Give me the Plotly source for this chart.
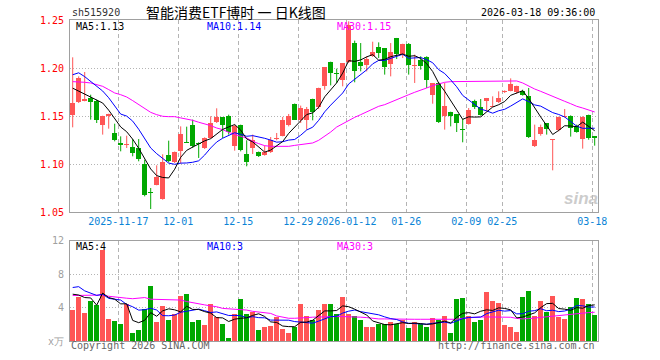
import numpy as np
import pandas as pd
import plotly.graph_objects as go

# ---------------- data ----------------
holidays = ["2026-01-01", "2026-01-02", "2026-02-16", "2026-02-17", "2026-02-18",
            "2026-02-19", "2026-02-20", "2026-02-23"]
dates = [d.strftime("%Y-%m-%d") for d in pd.bdate_range("2025-11-05", "2026-03-18")
         if d.strftime("%Y-%m-%d") not in holidays]

opens = [1.1507, 1.1642, 1.1660, 1.1691, 1.1653, 1.1410, 1.1497, 1.1323, 1.1222, 1.1198,
         1.1174, 1.1167, 1.1000, 1.0701, 1.0785, 1.0639, 1.1097, 1.1017, 1.1132, 1.1229,
         1.1406, 1.1219, 1.1167, 1.1274, 1.1438, 1.1486, 1.1497, 1.1184, 1.1410, 1.1104,
         1.1167, 1.1128, 1.1097, 1.1122, 1.1260, 1.1295, 1.1403, 1.1628, 1.1455, 1.1455,
         1.1680, 1.1594, 1.1809, 1.2066, 1.1944, 1.1878, 1.2059, 1.2260, 1.2059, 1.2028,
         1.2122, 1.2219, 1.2208, 1.2042, 1.2313, 1.2149, 1.2253, 1.2017, 1.2087, 1.2115,
         1.1722, 1.1844, 1.1497, 1.1545, 1.1521, 1.1361, 1.1420, 1.1653, 1.1590, 1.1653,
         1.1597, 1.1642, 1.1753, 1.1757, 1.1747, 1.1764, 1.1712, 1.1184, 1.1316, 1.1427,
         1.1247, 1.1351, 1.1490, 1.1503, 1.1400, 1.1260, 1.1507, 1.1292]
highs = [1.2111, 1.1913, 1.1958, 1.1722, 1.1670, 1.1503, 1.1524, 1.1420, 1.1288, 1.1295,
         1.1260, 1.1260, 1.1045, 1.0750, 1.0986, 1.1101, 1.1243, 1.1130, 1.1392, 1.1389,
         1.1462, 1.1226, 1.1278, 1.1497, 1.1580, 1.1486, 1.1514, 1.1410, 1.1410, 1.1247,
         1.1306, 1.1130, 1.1191, 1.1281, 1.1323, 1.1490, 1.1521, 1.1630, 1.1608, 1.1594,
         1.1680, 1.1795, 1.2007, 1.2066, 1.1993, 1.2052, 1.2486, 1.2285, 1.2260, 1.2122,
         1.2274, 1.2267, 1.2208, 1.2260, 1.2313, 1.2253, 1.2260, 1.2139, 1.2122, 1.2122,
         1.1844, 1.1854, 1.1844, 1.1545, 1.1521, 1.1469, 1.1583, 1.1670, 1.1677, 1.1688,
         1.1705, 1.1757, 1.1767, 1.1892, 1.1816, 1.1774, 1.1792, 1.1410, 1.1410, 1.1427,
         1.1253, 1.1493, 1.1573, 1.1507, 1.1410, 1.1497, 1.1514, 1.1292]
lows = [1.1382, 1.1635, 1.1653, 1.1462, 1.1427, 1.1306, 1.1368, 1.1236, 1.1132, 1.1167,
        1.1080, 1.1028, 1.0663, 1.0531, 1.0778, 1.0628, 1.1017, 1.1010, 1.1003, 1.1219,
        1.1167, 1.1063, 1.1156, 1.1267, 1.1427, 1.1271, 1.1306, 1.1139, 1.1132, 1.0976,
        1.1104, 1.1073, 1.1087, 1.1115, 1.1247, 1.1288, 1.1392, 1.1462, 1.1427, 1.1358,
        1.1455, 1.1573, 1.1774, 1.1819, 1.1844, 1.1809, 1.2052, 1.1851, 1.1965, 1.1965,
        1.2115, 1.2104, 1.1931, 1.1913, 1.2094, 1.2104, 1.1931, 1.1844, 1.1983, 1.1792,
        1.1628, 1.1427, 1.1358, 1.1392, 1.1333, 1.1226, 1.1410, 1.1573, 1.1503, 1.1549,
        1.1594, 1.1635, 1.1740, 1.1757, 1.1733, 1.1712, 1.1271, 1.1177, 1.1295, 1.1306,
        1.0934, 1.1340, 1.1485, 1.1285, 1.1326, 1.1160, 1.1253, 1.1191]
closes = [1.1639, 1.1896, 1.1680, 1.1642, 1.1455, 1.1503, 1.1524, 1.1253, 1.1194, 1.1205,
          1.1115, 1.1052, 1.0674, 1.0694, 1.0861, 1.1017, 1.1028, 1.1128, 1.1316, 1.1222,
          1.1188, 1.1205, 1.1274, 1.1431, 1.1486, 1.1406, 1.1333, 1.1399, 1.1142, 1.1024,
          1.1253, 1.1080, 1.1122, 1.1247, 1.1267, 1.1455, 1.1503, 1.1462, 1.1583, 1.1573,
          1.1542, 1.1795, 1.2007, 1.1944, 1.1938, 1.2052, 1.2444, 1.1965, 1.2024, 1.2094,
          1.2170, 1.2153, 1.2007, 1.2167, 1.2149, 1.2253, 1.2035, 1.2035, 1.2024, 1.1878,
          1.1844, 1.1434, 1.1608, 1.1503, 1.1427, 1.1354, 1.1566, 1.1594, 1.1514, 1.1688,
          1.1604, 1.1688, 1.1760, 1.1837, 1.1816, 1.1715, 1.1281, 1.1253, 1.1385, 1.1365,
          1.1253, 1.1493, 1.1497, 1.1370, 1.1330, 1.1490, 1.1271, 1.1271]

# moving-average values visible before a full window is available
ma5_head = [1.179, 1.176, 1.173, 1.170]
ma10_head = [1.193, 1.195, 1.191, 1.186, 1.181, 1.176, 1.169, 1.160, 1.152]
ma30 = [1.1858, 1.1858, 1.1851, 1.1844, 1.1826, 1.1809, 1.1775, 1.1740, 1.1722, 1.1698,
        1.1660, 1.1618, 1.1580, 1.1538, 1.1514, 1.1497, 1.1493, 1.1493, 1.1480, 1.1469,
        1.1455, 1.1435, 1.1420, 1.1400, 1.1375, 1.1358, 1.1330, 1.1306, 1.1288, 1.1271,
        1.1236, 1.1212, 1.1191, 1.1184, 1.1184, 1.1184, 1.1184, 1.1194, 1.1201, 1.1212,
        1.1219, 1.1247, 1.1288, 1.1333, 1.1385, 1.1420, 1.1455, 1.1486, 1.1514, 1.1542,
        1.1573, 1.1601, 1.1618, 1.1642, 1.1670, 1.1698, 1.1722, 1.1747, 1.1767, 1.1792,
        1.1816, 1.1837, 1.1851, 1.1858, 1.1858, 1.1858, 1.1858, 1.1865, 1.1865, 1.1865,
        1.1865, 1.1865, 1.1865, 1.1865, 1.1865, 1.1844, 1.1809, 1.1781, 1.1757, 1.1733,
        1.1705, 1.1677, 1.1653, 1.1628, 1.1601, 1.1583, 1.1566, 1.1542]

volume = [3.68, 5.28, 3.36, 4.80, 4.32, 10.88, 2.64, 2.36, 2.00, 4.40,
          0.92, 1.28, 3.80, 6.56, 2.24, 4.16, 2.48, 3.20, 5.36, 5.60,
          2.24, 2.48, 1.88, 4.48, 2.90, 2.08, 0.32, 3.28, 5.00, 3.20,
          3.52, 1.28, 1.68, 1.76, 2.84, 1.40, 0.92, 1.64, 4.40, 2.96,
          2.48, 3.68, 4.48, 4.40, 3.20, 5.24, 3.20, 3.00, 2.48, 1.64,
          1.64, 2.04, 2.04, 2.32, 2.08, 2.48, 1.52, 2.32, 2.00, 1.64,
          2.72, 2.56, 2.96, 0.92, 5.00, 5.12, 2.96, 2.24, 2.48, 5.84,
          4.76, 4.52, 1.88, 1.64, 1.04, 5.24, 5.96, 2.96, 4.76, 3.44,
          5.40, 2.84, 2.60, 4.04, 5.12, 5.00, 4.40, 3.08]
vma5_head = [5.60, 5.50, 5.20, 5.15]
vma10_head = [6.40, 6.50, 6.00, 5.70, 5.45, 5.60, 5.10, 5.00, 4.90]
vma30 = [5.44, 5.44, 5.44, 5.44, 5.44, 5.50, 5.35, 5.25, 5.20, 5.12,
         5.06, 5.10, 5.20, 5.00, 4.98, 4.96, 5.00, 4.96, 4.90, 4.72,
         4.56, 4.40, 4.32, 4.20, 4.10, 3.90, 3.84, 3.80, 3.75, 3.70,
         3.55, 3.45, 3.35, 3.30, 3.00, 2.90, 2.72, 2.72, 2.72, 2.80,
         2.85, 2.88, 2.92, 2.96, 2.92, 2.92, 2.92, 2.90, 2.85, 2.80,
         2.70, 2.64, 2.64, 2.65, 2.65, 2.64, 2.62, 2.60, 2.60, 2.60,
         2.60, 2.58, 2.56, 2.58, 2.60, 2.72, 2.80, 2.84, 2.88, 2.88,
         2.88, 2.88, 2.86, 2.84, 2.70, 2.64, 2.68, 2.76, 2.84, 2.88,
         2.96, 3.04, 3.15, 3.24, 3.30, 3.36, 3.40, 3.44]

tick_dates = ["2025-11-17", "2025-12-01", "2025-12-15", "2025-12-29", "2026-01-12",
              "2026-01-26", "2026-02-09", "2026-02-25", "2026-03-18"]
tick_labels = ["2025-11-17", "12-01", "12-15", "12-29", "2026-01-12",
               "01-26", "02-09", "02-25", "03-18"]
price_ticks = [1.05, 1.10, 1.15, 1.20, 1.25]
price_tick_text = ["1.05", "1.10", "1.15", "1.20", "1.25"]
vol_ticks = [0, 4, 8, 12]
vol_tick_text = ["x万", "4", "8", "12"]

price_legend = ["MA5:1.13", "MA10:1.14", "MA30:1.15"]
volume_legend = ["MA5:4", "MA10:3", "MA30:3"]
title_code = "sh515920"
title_name = "智能消费ETF博时 一 日K线图"
timestamp = "2026-03-18 09:36:00"

# ---------------- derived ----------------
n = len(closes)
xi = np.arange(n)
o = np.array(opens); h = np.array(highs); l = np.array(lows); c = np.array(closes)
v = np.array(volume)

ma5 = pd.Series(c).rolling(5).mean().to_numpy()
ma5[:len(ma5_head)] = ma5_head
ma10 = pd.Series(c).rolling(10).mean().to_numpy()
ma10[:len(ma10_head)] = ma10_head
vma5 = pd.Series(v).rolling(5).mean().to_numpy()
vma5[:len(vma5_head)] = vma5_head
vma10 = pd.Series(v).rolling(10).mean().to_numpy()
vma10[:len(vma10_head)] = vma10_head

up = c >= o
RED = "#ff5555"
GREEN = "#00a800"
MONO = "DejaVu Sans Mono"

W, H = 660, 360
ML, MR, MT, MB = 70, 62, 20, 19
PW, PH = W - ML - MR, H - MT - MB


def px(xp):
    return (xp - ML) / PW


def py(yp):
    return (H - MB - yp) / PH


price_dom = [py(212), 1]
vol_dom = [0, py(240.7)]

fig = go.Figure()


def add_candles(mask, color):
    idx = xi[mask]
    wx, wy = [], []
    for i in idx:
        wx += [i, i, None]
        wy += [l[i], h[i], None]
    fig.add_trace(go.Scatter(x=wx, y=wy, mode="lines", line=dict(color=color, width=1),
                             xaxis="x", yaxis="y", hoverinfo="skip"))
    body = np.maximum(np.abs(c[idx] - o[idx]), 0.0011)
    fig.add_trace(go.Bar(x=idx, y=body, base=np.minimum(o[idx], c[idx]), width=0.8,
                         marker=dict(color=color, line=dict(width=0)),
                         xaxis="x", yaxis="y", hoverinfo="skip"))


add_candles(up, RED)
add_candles(~up, GREEN)

for series, color in [(ma30, "#ff00ff"), (ma10, "#0000ff"), (ma5, "#000000")]:
    fig.add_trace(go.Scatter(x=xi, y=series, mode="lines", line=dict(color=color, width=1),
                             xaxis="x", yaxis="y", hoverinfo="skip"))

fig.add_trace(go.Bar(x=xi[up], y=v[up], width=0.8, marker=dict(color=RED, line=dict(width=0)),
                     xaxis="x2", yaxis="y2", hoverinfo="skip"))
fig.add_trace(go.Bar(x=xi[~up], y=v[~up], width=0.8, marker=dict(color=GREEN, line=dict(width=0)),
                     xaxis="x2", yaxis="y2", hoverinfo="skip"))
for series, color in [(vma30, "#ff00ff"), (vma10, "#0000ff"), (vma5, "#000000")]:
    fig.add_trace(go.Scatter(x=xi, y=series, mode="lines", line=dict(color=color, width=1),
                             xaxis="x2", yaxis="y2", hoverinfo="skip"))

tickvals = [dates.index(d) - 0.4 for d in tick_dates]
xr = [-0.45, n - 0.45]
grid_c = "#b4b4b4"
frame_c = "#a0a0a0"

xcommon = dict(range=xr, tickvals=tickvals, showgrid=True, gridcolor=grid_c, gridwidth=1,
               griddash="4px,3px", showline=True, linecolor=frame_c, linewidth=1, mirror=True,
               zeroline=False, ticks="", fixedrange=True)
fig.update_layout(
    width=W, height=H, margin=dict(l=ML, r=MR, t=MT, b=MB),
    paper_bgcolor="white", plot_bgcolor="white", showlegend=False,
    barmode="overlay", bargap=0,
    xaxis=dict(**xcommon, domain=[0, 1], anchor="y", ticktext=tick_labels,
               tickfont=dict(family=MONO, size=10, color="#0a84d6")),
    xaxis2=dict(**xcommon, domain=[0, 1], anchor="y2", showticklabels=False),
    yaxis=dict(domain=price_dom, range=[1.05, 1.25], tickvals=price_ticks, ticktext=price_tick_text,
               tickfont=dict(family=MONO, size=10, color="#ff0000"), showgrid=True,
               gridcolor=grid_c, griddash="1px,2px", showline=True, linecolor=frame_c,
               mirror=True, zeroline=False, ticks="", ticklabelstandoff=3, fixedrange=True),
    yaxis2=dict(domain=vol_dom, range=[0, 12], tickvals=vol_ticks, ticktext=vol_tick_text,
                tickfont=dict(family=MONO, size=10, color="#a0a0a0"), showgrid=True,
                gridcolor=grid_c, griddash="1px,2px", showline=True, linecolor=frame_c,
                mirror=True, zeroline=False, ticks="", ticklabelstandoff=3, fixedrange=True),
)


def note(text, x, y, xanchor="left", color="#000", size=10, family=MONO, **kw):
    fig.add_annotation(text=text, x=px(x), y=py(y), xref="paper", yref="paper",
                       xanchor=xanchor, yanchor="middle", showarrow=False,
                       font=dict(family=family, size=size, color=color), **kw)


legend_x = [74, 204.5, 334.5]
legend_c = ["#000000", "#0000ff", "#ff00ff"]
for t, x0, col in zip(price_legend, legend_x, legend_c):
    note(t, x0, 26.5, color=col)
for t, x0, col in zip(volume_legend, legend_x, legend_c):
    note(t, x0, 246, color=col)

note(title_code, 70, 12, color="#333333")
note(title_name, 236, 12, xanchor="center", color="#000000", size=14, family="Noto Sans CJK SC")
note(timestamp, 597, 12, xanchor="right", color="#000000")
note("Copyright 2026 SINA.COM", 69, 346, color="#666666")
note("http://finance.sina.com.cn", 597, 346, xanchor="right", color="#666666")
note("<b><i>sina</i></b>", 581, 198, xanchor="center", color="rgba(190,190,190,0.8)", size=17,
     family="Liberation Sans")

fig.write_html("out.html", config={"displayModeBar": False, "staticPlot": True},
               post_script="document.body.style.margin='0px';")
